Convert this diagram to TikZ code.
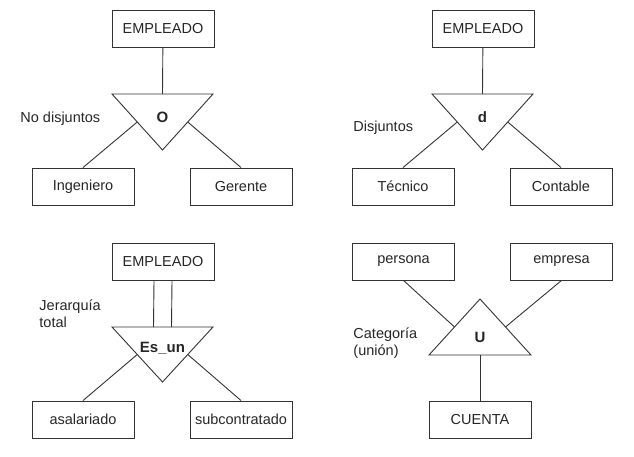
\documentclass[tikz,border=0pt]{standalone}
\usepackage{fontspec}
\setmainfont{Liberation Sans}
\usetikzlibrary{calc}

\begin{document}
\begin{tikzpicture}[x=1pt, y=-1pt, line width=0.9pt, draw=black!80,
    every node/.style={font=\fontsize{14.5}{17}\selectfont, text=black!85},
    entity/.style={draw=black!80, minimum width=102pt, minimum height=37pt, inner sep=1pt},
    tag/.style={font=\fontsize{15}{17}\selectfont\bfseries},
    note/.style={align=left, anchor=west, inner sep=0pt}]
    \useasboundingbox (0,0) rectangle (634,457);

    % no disjuntos
    \node[entity] (emp1) at (163,28.5) {EMPLEADO};
    \coordinate (t1a) at (112,94);
    \coordinate (t1b) at (213,94);
    \coordinate (t1c) at (162.5,150);
    \coordinate (t1top) at (162.5,94);
    \draw (t1a) -- (t1b) -- (t1c) -- cycle;
    \node[tag] (ovl) at (162.5,117) {O};
    \node[note] (nodisj) at (20,119) {No disjuntos};
    \node[entity] (ing) at (83,186.5) {Ingeniero};
    \node[entity] (ger) at (241,186.5) {Gerente};
    \draw (emp1) -- (t1top);
    \draw ($(t1a)!0.5!(t1c)$) -- (ing.north);
    \draw ($(t1b)!0.5!(t1c)$) -- (ger.north);

    % disjuntos
    \node[entity] (emp2) at (483,28.5) {EMPLEADO};
    \coordinate (t2a) at (432,94);
    \coordinate (t2b) at (533,94);
    \coordinate (t2c) at (482.5,150);
    \coordinate (t2top) at (482.5,94);
    \draw (t2a) -- (t2b) -- (t2c) -- cycle;
    \node[tag] (dsj) at (482.5,117) {d};
    \node[note] (disj) at (353,128) {Disjuntos};
    \node[entity] (tec) at (403,186.5) {Técnico};
    \node[entity] (cont) at (561,186.5) {Contable};
    \draw (emp2) -- (t2top);
    \draw ($(t2a)!0.5!(t2c)$) -- (tec.north);
    \draw ($(t2b)!0.5!(t2c)$) -- (cont.north);

    % jerarquia total
    \node[entity] (emp3) at (163,261.5) {EMPLEADO};
    \coordinate (t3a) at (112,327);
    \coordinate (t3b) at (213,327);
    \coordinate (t3c) at (162.5,382);
    \coordinate (t3top) at (162.5,327);
    \draw (t3a) -- (t3b) -- (t3c) -- cycle;
    \node[tag] (esun) at (162.5,348) {Es\_un};
    \node[note] (jer) at (39,314) {Jerarquía\\total};
    \node[entity] (asal) at (83,419.5) {asalariado};
    \node[entity] (subc) at (241,419.5) {subcontratado};
    \draw ([xshift=-9pt]emp3.south) -- ([xshift=-9pt]t3top);
    \draw ([xshift=9pt]emp3.south) -- ([xshift=9pt]t3top);
    \draw ($(t3a)!0.5!(t3c)$) -- (asal.north);
    \draw ($(t3b)!0.5!(t3c)$) -- (subc.north);

    % categoria
    \node[entity] (pers) at (403.5,261.5) {persona};
    \node[entity] (empr) at (561.5,261.5) {empresa};
    \coordinate (t4a) at (429,355);
    \coordinate (t4b) at (531,355);
    \coordinate (t4c) at (480,299);
    \coordinate (t4bot) at (480,355);
    \draw (t4a) -- (t4b) -- (t4c) -- cycle;
    \node[tag] (uni) at (480,337) {U};
    \node[note] (cat) at (353,343) {Categoría\\(unión)};
    \node[entity] (cta) at (480,420) {CUENTA};
    \draw (pers.south) -- ($(t4a)!0.5!(t4c)$);
    \draw (empr.south) -- ($(t4b)!0.5!(t4c)$);
    \draw (t4bot) -- (cta);
\end{tikzpicture}
\end{document}
